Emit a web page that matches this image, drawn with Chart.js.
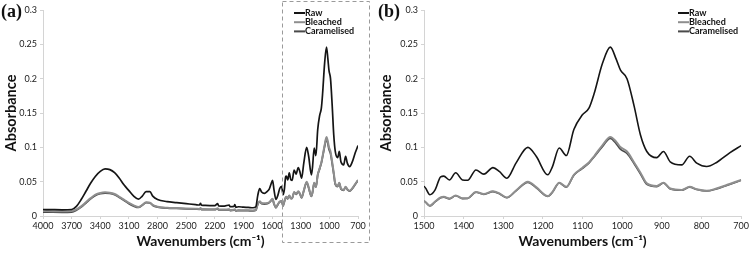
<!DOCTYPE html>
<html>
<head>
<meta charset="utf-8">
<script src="https://cdn.jsdelivr.net/npm/chart.js@4.4.1/dist/chart.umd.min.js"></script>
<style>
  html, body { margin: 0; padding: 0; background: #fff; }
  body { width: 751px; height: 254px; position: relative; overflow: hidden; }
  .panel { position: absolute; top: 0; height: 254px; }
  #pa { left: 0; width: 375px; }
  #pb { left: 375px; width: 376px; }
  .tag { position: absolute; top: 1px; font: bold 18px "Liberation Serif", serif; color: #111; }
</style>
</head>
<body>
<div class="panel" id="pa"><canvas id="chartA"></canvas></div>
<div class="panel" id="pb"><canvas id="chartB"></canvas></div>
<div class="tag" style="left:1px">(a)</div>
<div class="tag" style="left:378px">(b)</div>
<script>
// wavenumbers (cm-1), shared by all three spectra
const wavenumbers = [
  4000, 3900, 3800, 3700, 3650, 3600, 3550, 3500, 3450, 3400, 3350, 3300, 3250, 3200, 3150, 3100,
  3050, 3000, 2960, 2920, 2880, 2850, 2800, 2700, 2600, 2500, 2400, 2360, 2350, 2340, 2300, 2200,
  2170, 2160, 2100, 2050, 2040, 2000, 1990, 1980, 1950, 1900, 1850, 1800, 1770, 1750, 1730, 1710,
  1680, 1650, 1630, 1610, 1595, 1580, 1560, 1540, 1520, 1500, 1485, 1472, 1458, 1450, 1436, 1420,
  1403, 1390, 1369, 1349, 1326, 1310, 1291, 1268, 1238, 1217, 1188, 1176, 1159, 1141, 1122, 1101,
  1084, 1071, 1050, 1030, 1015, 1004, 988, 970, 954, 938, 913, 896, 879, 850, 830, 812,
  787, 762, 729, 700
];
const raw = [
  .0095, .0092, .0090, .0095, .014, .024, .036, .048, .058, .065, .0685, .0675, .063, .055, .045, .037,
  .029, .0245, .029, .0355, .0355, .029, .024, .021, .0195, .018, .0165, .016, .0185, .0158, .0155, .015,
  .018, .0148, .0145, .016, .0135, .014, .0165, .0128, .0135, .0128, .0125, .012, .0135, .030, .040, .035,
  .033, .036, .039, .047, .052, .038, .024, .030, .040, .043, .031, .038, .057, .058, .0525, .063,
  .0525, .052, .067, .061, .0705, .065, .055, .077, .100, .087, .060, .072, .099, .088, .126, .147,
  .157, .178, .222, .246, .228, .212, .200, .160, .118, .094, .085, .094, .079, .0745, .087, .077,
  .072, .078, .092, .1025
];
const bleached = [
  .0072, .0070, .0068, .0072, .0095, .014, .020, .026, .031, .0335, .0345, .034, .032, .028, .0235, .019,
  .0155, .013, .016, .020, .0195, .016, .0135, .012, .0115, .011, .0105, .0103, .0115, .010, .010, .0097,
  .0112, .0095, .0093, .0098, .0085, .009, .0098, .0078, .0085, .0083, .0082, .008, .0088, .018, .0215, .019,
  .0185, .019, .020, .023, .025, .018, .0125, .017, .021, .022, .015, .021, .027, .028, .0255, .030,
  .0258, .026, .035, .032, .036, .033, .027, .037, .050, .042, .029, .035, .0485, .0425, .060, .070,
  .078, .087, .103, .115, .108, .100, .094, .078, .063, .0475, .0437, .0485, .040, .038, .0427, .039,
  .0368, .040, .0466, .0525
];
const caramelised = [
  .0058, .0055, .0054, .0058, .0085, .013, .019, .025, .030, .0325, .0335, .033, .031, .027, .0225, .018,
  .0145, .0125, .0155, .0195, .019, .0155, .013, .0115, .011, .0105, .010, .0098, .011, .0095, .0095, .0092,
  .0105, .009, .0088, .0093, .008, .0085, .0092, .0074, .008, .0078, .0077, .0076, .0084, .017, .0205, .018,
  .0175, .018, .0195, .0225, .0245, .0175, .012, .0165, .0205, .0215, .0145, .0205, .0265, .0275, .025, .0295,
  .0253, .0255, .0345, .0315, .0355, .0325, .0265, .0365, .049, .041, .0285, .0345, .048, .042, .0595, .069,
  .077, .086, .101, .113, .105, .097, .091, .076, .061, .046, .0428, .048, .0395, .0375, .042, .0385,
  .0363, .0395, .046, .052
];
const seriesNames = ['Raw', 'Bleached', 'Caramelised'];
const seriesColors = ['#151515', '#8e8e8e', '#4a4a4a'];
const ticksA = [4000, 3700, 3400, 3100, 2800, 2500, 2200, 1900, 1600, 1300, 1000, 700];
const ticksB = [1500, 1400, 1300, 1200, 1100, 1000, 900, 800, 700];
const zoomRange = [1500, 700];

const FONT = 'Lato, "Open Sans", sans-serif';
const toXY = vals => wavenumbers.map((w, i) => ({ x: w, y: vals[i] }));

function makeDatasets(widths) {
  return [raw, bleached, caramelised].map((vals, i) => ({
    label: seriesNames[i],
    data: toXY(vals),
    borderColor: seriesColors[i],
    borderWidth: widths[i],
    pointRadius: 0,
    cubicInterpolationMode: 'monotone',
    fill: false
  }));
}

// small legend in the top right corner
const cornerLegend = {
  id: 'cornerLegend',
  afterDraw(chart, args, opts) {
    const ctx = chart.ctx;
    ctx.save();
    ctx.font = 'bold 9px ' + FONT;
    ctx.textBaseline = 'middle';
    chart.data.datasets.forEach((ds, i) => {
      const y = opts.y + i * 9.2;
      ctx.strokeStyle = ds.borderColor;
      ctx.lineWidth = 2;
      ctx.beginPath();
      ctx.moveTo(opts.x, y);
      ctx.lineTo(opts.x + 11, y);
      ctx.stroke();
      ctx.fillStyle = '#111';
      ctx.fillText(ds.label, opts.x + 11, y);
    });
    ctx.restore();
  }
};

// dashed box marking the zoomed region in (a)
const zoomBox = {
  id: 'zoomBox',
  afterDraw(chart, args, opts) {
    if (!opts.show) return;
    const x = chart.scales.x;
    const ctx = chart.ctx;
    const left = x.getPixelForValue(zoomRange[0]);
    ctx.save();
    ctx.strokeStyle = '#9a9a9a';
    ctx.lineWidth = 1;
    ctx.setLineDash([4, 3]);
    ctx.strokeRect(Math.round(left) + 0.5, 1.5, opts.right - Math.round(left), opts.bottom);
    ctx.restore();
  }
};

function makeOptions(cfg) {
  return {
    responsive: false,
    animation: false,
    layout: { padding: { top: 10, right: cfg.padRight, bottom: 4, left: 0 } },
    plugins: {
      legend: { display: false },
      tooltip: { enabled: false },
      cornerLegend: { x: cfg.legendX, y: 13 },
      zoomBox: { show: cfg.box, right: 369, bottom: 241 }
    },
    scales: {
      x: {
        type: 'linear',
        reverse: true,
        min: cfg.min,
        max: cfg.max,
        afterBuildTicks: s => { s.ticks = cfg.ticks.map(v => ({ value: v })); },
        afterFit: s => { s.height = 34; },
        grid: { display: true, drawOnChartArea: false, tickLength: 3, color: '#d4d4d4' },
        border: { color: '#d4d4d4' },
        ticks: {
          color: '#222', font: { family: FONT, size: 9 }, padding: 2, maxRotation: 0, autoSkip: false,
          callback: v => String(v)
        },
        title: {
          display: true,
          text: 'Wavenumbers (cm\u207B\u00B9)',
          color: '#111',
          font: { family: FONT, size: 14, weight: 'bold' },
          padding: { top: 0, bottom: 0 }
        }
      },
      y: {
        min: 0,
        max: 0.3,
        afterFit: s => { s.width = cfg.yWidth; },
        grid: { display: true, drawOnChartArea: false, tickLength: 3, color: '#d4d4d4' },
        border: { color: '#d4d4d4' },
        ticks: {
          stepSize: 0.05, color: '#222', font: { family: FONT, size: 9 }, padding: 3,
          callback: v => String(+v.toFixed(2))
        },
        title: {
          display: true,
          text: 'Absorbance',
          color: '#111',
          font: { family: FONT, size: 14.5, weight: 'bold' },
          padding: { top: 3, bottom: 0 }
        }
      }
    }
  };
}

const elA = document.getElementById('chartA');
elA.width = 375; elA.height = 254;
new Chart(elA, {
  type: 'line',
  data: { datasets: makeDatasets([1.7, 2, 1.8]) },
  options: makeOptions({ min: 700, max: 4000, ticks: ticksA, yWidth: 43, padRight: 17, legendX: 294, box: true }),
  plugins: [cornerLegend, zoomBox]
});

const elB = document.getElementById('chartB');
elB.width = 376; elB.height = 254;
new Chart(elB, {
  type: 'line',
  data: { datasets: makeDatasets([1.6, 2, 1.6]) },
  options: makeOptions({ min: zoomRange[1], max: zoomRange[0], ticks: ticksB, yWidth: 49, padRight: 8, legendX: 303, box: false }),
  plugins: [cornerLegend, zoomBox]
});
</script>
</body>
</html>
